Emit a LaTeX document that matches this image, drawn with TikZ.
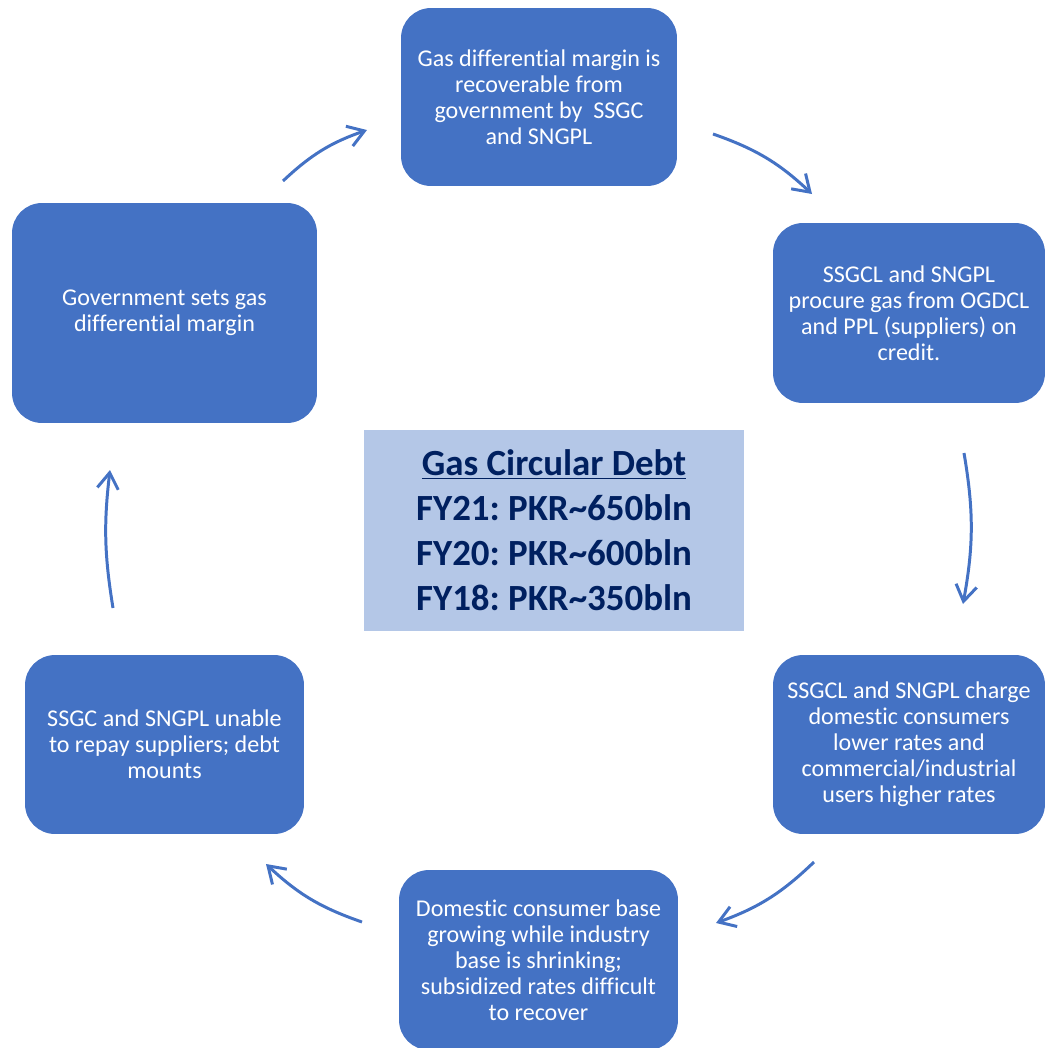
\documentclass[tikz,border=0pt]{standalone}
\usepackage{fontspec}
\setmainfont{Carlito}[Ligatures=NoCommon]
\usetikzlibrary{arrows.meta,positioning,calc}
\definecolor{boxblue}{HTML}{4472C4}
\definecolor{hubfill}{HTML}{B4C7E7}
\definecolor{hubtext}{HTML}{002060}
\frenchspacing

\begin{document}
\begin{tikzpicture}[x=0.02cm, y=-0.02cm,
  stepbox/.style={rounded corners=0.6cm, fill=boxblue, text=white, align=center,
    inner sep=0pt, font=\fontsize{13.7}{14.8}\selectfont},
  hub/.style={fill=hubfill, text=hubtext, align=center, inner sep=0pt,
    minimum width=7.6cm, minimum height=4.02cm, font=\bfseries\fontsize{21}{25.6}\selectfont},
  cyc/.style={draw=boxblue, line width=1.7pt, -{Straight Barb[length=0.32cm,width=0.42cm]}, bend left=12}]
  \useasboundingbox (0,0) rectangle (1045,1048);

  % boxes of the cycle
  \node (gov) [stepbox, minimum width=6.1cm, minimum height=4.4cm] at (164.5,313) {Government sets gas\\differential margin};
  \node (recov) [stepbox, minimum width=5.52cm, minimum height=3.56cm] at (539,97) {Gas differential margin is\\recoverable from\\government by~ SSGC\\and SNGPL};
  \node (procure) [stepbox, minimum width=5.44cm, minimum height=3.6cm] at (909,313) {SSGCL and SNGPL\\procure gas from OGDCL\\and PPL (suppliers) on\\credit.};
  \node (charge) [stepbox, minimum width=5.44cm, minimum height=3.58cm] at (909,744.5) {SSGCL and SNGPL charge\\domestic consumers\\lower rates and\\commercial/industrial\\users higher rates};
  \node (base) [stepbox, minimum width=5.58cm, minimum height=3.6cm] at (538.5,960) {Domestic consumer base\\growing while industry\\base is shrinking;\\subsidized rates difficult\\to recover};
  \node (repay) [stepbox, minimum width=5.58cm, minimum height=3.58cm] at (164.5,744.5) {SSGC and SNGPL unable\\to repay suppliers; debt\\mounts};

  % centre
  \node (debt) [hub] at (554,530.5) {\underline{Gas Circular Debt}\\FY21: PKR\char`~650bln\\FY20: PKR\char`~600bln\\FY18: PKR\char`~350bln};

  % arrow ends
  \coordinate (a1) at (283,181);  \coordinate (b1) at (367,130);
  \coordinate (a2) at (713,134);  \coordinate (b2) at (812,194);
  \coordinate (a3) at (964,453);  \coordinate (b3) at (963,604);
  \coordinate (a4) at (814,862);  \coordinate (b4) at (716,923);
  \coordinate (a5) at (362,922);  \coordinate (b5) at (266,864);
  \coordinate (a6) at (113,608);  \coordinate (b6) at (110,470);

  \draw [cyc] (a1) to (b1);
  \draw [cyc] (a2) to (b2);
  \draw [cyc, bend left=10] (a3) to (b3);
  \draw [cyc] (a4) to (b4);
  \draw [cyc] (a5) to (b5);
  \draw [cyc, bend left=8] (a6) to (b6);
\end{tikzpicture}
\end{document}
